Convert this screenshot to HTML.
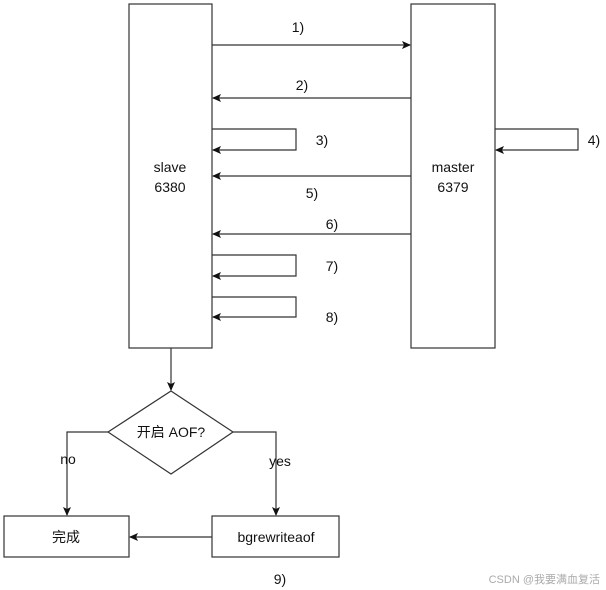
<!DOCTYPE html>
<html><head><meta charset="utf-8"><style>
html,body{margin:0;padding:0;background:#fff;}
svg{display:block;}
text{font-family:"Liberation Sans","Noto Sans CJK SC",sans-serif;font-size:14px;fill:#111;}
</style></head><body>
<svg width="606" height="590" viewBox="0 0 606 590" xmlns="http://www.w3.org/2000/svg">
<defs><marker id="a" markerWidth="10" markerHeight="10" refX="8" refY="4" orient="auto" markerUnits="userSpaceOnUse"><path d="M0,0 L9,4 L0,8 L2,4 z" fill="#111"/></marker></defs>
<g fill="none" stroke="#333" stroke-width="1.2">
<rect x="129" y="4" width="83" height="344"/>
<rect x="411" y="4" width="84" height="344"/>
<line x1="212" y1="45" x2="410" y2="45" marker-end="url(#a)"/>
<line x1="411" y1="98" x2="213" y2="98" marker-end="url(#a)"/>
<polyline points="212,129 296,129 296,150 213,150" marker-end="url(#a)"/>
<polyline points="495,129 578,129 578,150 496,150" marker-end="url(#a)"/>
<line x1="411" y1="176" x2="213" y2="176" marker-end="url(#a)"/>
<line x1="411" y1="234" x2="213" y2="234" marker-end="url(#a)"/>
<polyline points="212,255 296,255 296,276 213,276" marker-end="url(#a)"/>
<polyline points="212,297 296,297 296,317 213,317" marker-end="url(#a)"/>
<line x1="171" y1="348" x2="171" y2="390" marker-end="url(#a)"/>
<polygon points="171,391 233,432 171,474 108,432"/>
<polyline points="108,432 67,432 67,515" marker-end="url(#a)"/>
<polyline points="233,432 276,432 276,515" marker-end="url(#a)"/>
<rect x="4" y="516" width="125" height="41"/>
<rect x="212" y="516" width="127" height="41"/>
<line x1="212" y1="537" x2="130" y2="537" marker-end="url(#a)"/>
</g>
<text x="170" y="172" text-anchor="middle">slave</text>
<text x="170" y="192" text-anchor="middle">6380</text>
<text x="453" y="172" text-anchor="middle">master</text>
<text x="453" y="192" text-anchor="middle">6379</text>
<text x="298" y="32" text-anchor="middle">1)</text>
<text x="302" y="90" text-anchor="middle">2)</text>
<text x="322" y="145" text-anchor="middle">3)</text>
<text x="594" y="145" text-anchor="middle">4)</text>
<text x="312" y="198" text-anchor="middle">5)</text>
<text x="332" y="229" text-anchor="middle">6)</text>
<text x="332" y="271" text-anchor="middle">7)</text>
<text x="332" y="322" text-anchor="middle">8)</text>
<text x="171" y="437" text-anchor="middle">开启 AOF?</text>
<text x="68" y="464" text-anchor="middle">no</text>
<text x="280" y="466" text-anchor="middle">yes</text>
<text x="66" y="542" text-anchor="middle">完成</text>
<text x="276" y="542" text-anchor="middle">bgrewriteaof</text>
<text x="280" y="584" text-anchor="middle">9)</text>
<text x="600" y="583" text-anchor="end" style="font-size:11px;fill:#aaa">CSDN @我要满血复活</text>
</svg>
</body></html>
